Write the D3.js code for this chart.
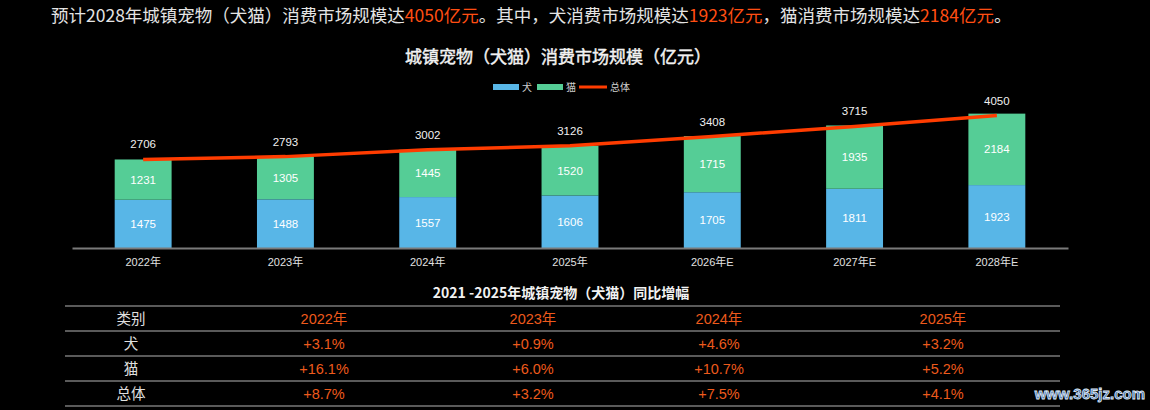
<!DOCTYPE html>
<html lang="zh">
<head>
<meta charset="UTF-8">
<title>城镇宠物（犬猫）消费市场规模</title>
<script src="https://cdn.jsdelivr.net/npm/d3@7"></script>
<style>
  html, body { margin: 0; padding: 0; background: #000; }
  svg { display: block; }
  text { font-family: "Liberation Sans", "Noto Sans CJK SC", sans-serif; }
  .cjk { font-family: "Noto Sans CJK SC", "Liberation Sans", sans-serif; }
</style>
</head>
<body>
<script>
// chart data
const years = ["2022年", "2023年", "2024年", "2025年", "2026年E", "2027年E", "2028年E"];
const dog = [1475, 1488, 1557, 1606, 1705, 1811, 1923];
const cat = [1231, 1305, 1445, 1520, 1715, 1935, 2184];
const total = [2706, 2793, 3002, 3126, 3408, 3715, 4050];

// table data
const tableYears = ["2022年", "2023年", "2024年", "2025年"];
const tableRows = ["犬", "猫", "总体"];
const dogGrowth = ["+3.1%", "+0.9%", "+4.6%", "+3.2%"];
const catGrowth = ["+16.1%", "+6.0%", "+10.7%", "+5.2%"];
const totalGrowth = ["+8.7%", "+3.2%", "+7.5%", "+4.1%"];

const W = 1150, H = 410;
const BLUE = "#58b6e7", GREEN = "#55cd96", RED = "#ff3c00", ORANGE = "#ff4e12", TORANGE = "#ee5a1c";

const svg = d3.select("body").append("svg").attr("width", W).attr("height", H);

// headline
const head = svg.append("text").attr("class", "cjk")
    .attr("x", 51).attr("y", 22).attr("font-size", 17.5).attr("fill", "#e4e4e4");
[["预计2028年城镇宠物（犬猫）消费市场规模达", false], ["4050亿元", true],
 ["。其中，犬消费市场规模达", false], ["1923亿元", true],
 ["，猫消费市场规模达", false], ["2184亿元", true], ["。", false]]
    .forEach(([t, hl]) => head.append("tspan").text(t).attr("fill", hl ? ORANGE : null));

// chart title
svg.append("text").attr("class", "cjk")
    .attr("x", 558).attr("y", 63).attr("text-anchor", "middle")
    .attr("font-size", 17).attr("fill", "#f2f2f2")
    .attr("stroke", "#f2f2f2").attr("stroke-width", 0.45)
    .text("城镇宠物（犬猫）消费市场规模（亿元）");

// legend
const legend = svg.append("g").attr("font-size", 10).attr("fill", "#cfcfcf");
legend.append("rect").attr("x", 493).attr("y", 84).attr("width", 26).attr("height", 6).attr("fill", BLUE);
legend.append("text").attr("class", "cjk").attr("x", 522).attr("y", 91).text("犬");
legend.append("rect").attr("x", 537).attr("y", 84).attr("width", 26).attr("height", 6).attr("fill", GREEN);
legend.append("text").attr("class", "cjk").attr("x", 566).attr("y", 91).text("猫");
legend.append("line").attr("x1", 579).attr("x2", 607).attr("y1", 87).attr("y2", 87)
    .attr("stroke", RED).attr("stroke-width", 3);
legend.append("text").attr("class", "cjk").attr("x", 610).attr("y", 91).text("总体");

// scales
const x = d3.scaleBand().domain(years).range([72, 1068]).paddingInner(0.6).paddingOuter(0.3);
const y = d3.scaleLinear().domain([0, 4050]).range([248, 115.5]);

const rows = years.map((yr, i) => ({ yr, dog: dog[i], cat: cat[i], total: total[i] }));
const stacked = d3.stack().keys(["dog", "cat"])(rows);
const colors = { dog: BLUE, cat: GREEN };

const bars = svg.append("g");
stacked.forEach(layer => {
  bars.selectAll(null).data(layer).join("rect")
      .attr("x", d => x(d.data.yr))
      .attr("width", x.bandwidth())
      .attr("y", d => y(d[1]))
      .attr("height", d => y(d[0]) - y(d[1]))
      .attr("fill", colors[layer.key]);
  bars.selectAll(null).data(layer).join("text")
      .attr("x", d => x(d.data.yr) + x.bandwidth() / 2)
      .attr("y", d => (y(d[0]) + y(d[1])) / 2 + 4)
      .attr("text-anchor", "middle").attr("font-size", 11.5).attr("fill", "#fff")
      .text(d => d[1] - d[0]);
});

// baseline axis
const axis = svg.append("g").attr("transform", "translate(0,248)")
    .call(d3.axisBottom(x).tickSize(0).tickPadding(10));
axis.select(".domain").attr("stroke", "#7a7a7a").attr("stroke-width", 2);
axis.selectAll("text").attr("font-size", 11).attr("fill", "#e0e0e0")
    .attr("font-family", "'Liberation Sans', 'Noto Sans CJK SC', sans-serif");

// total line
const cx = d => x(d.yr) + x.bandwidth() / 2;
svg.append("path").datum(rows)
    .attr("fill", "none").attr("stroke", RED).attr("stroke-width", 3.5)
    .attr("d", d3.line().x(cx).y(d => y(d.total)));

svg.append("g").selectAll("text").data(rows).join("text")
    .attr("x", cx).attr("y", d => y(d.total) - 11)
    .attr("text-anchor", "middle").attr("font-size", 11.5).attr("fill", "#f0f0f0")
    .text(d => d.total);

// growth table
svg.append("text").attr("class", "cjk")
    .attr("x", 561).attr("y", 298).attr("text-anchor", "middle")
    .attr("font-size", 14).attr("font-weight", "bold").attr("fill", "#f2f2f2")
    .text("2021 -2025年城镇宠物（犬猫）同比增幅");

const colX = [131, 324, 533, 719, 943];
const lineY = [306, 331, 356, 381, 406];
const tbl = svg.append("g");
tbl.selectAll("line").data(lineY).join("line")
    .attr("x1", 65).attr("x2", 1060).attr("y1", d => d).attr("y2", d => d)
    .attr("stroke", "#5a5a5a").attr("stroke-width", 2);

const tableData = [["类别", ...tableYears]].concat(
  tableRows.map((r, i) => [r, ...[dogGrowth, catGrowth, totalGrowth][i]]));
tableData.forEach((row, ri) => {
  tbl.selectAll(null).data(row).join("text")
      .attr("class", (d, ci) => ci === 0 ? "cjk" : null)
      .attr("x", (d, ci) => colX[ci])
      .attr("y", (lineY[ri] + lineY[ri + 1]) / 2 + 5)
      .attr("text-anchor", "middle").attr("font-size", 14.5)
      .attr("fill", (d, ci) => ci === 0 ? "#e0e0e0" : TORANGE)
      .text(d => d);
});

// watermark
svg.append("text").attr("x", 1145).attr("y", 399).attr("text-anchor", "end")
    .attr("font-size", 15).attr("font-weight", "bold")
    .attr("fill", "#3f6fae").attr("stroke", "#dfe8f5").attr("stroke-width", 0.8)
    .text("www.365jz.com");
</script>
</body>
</html>
